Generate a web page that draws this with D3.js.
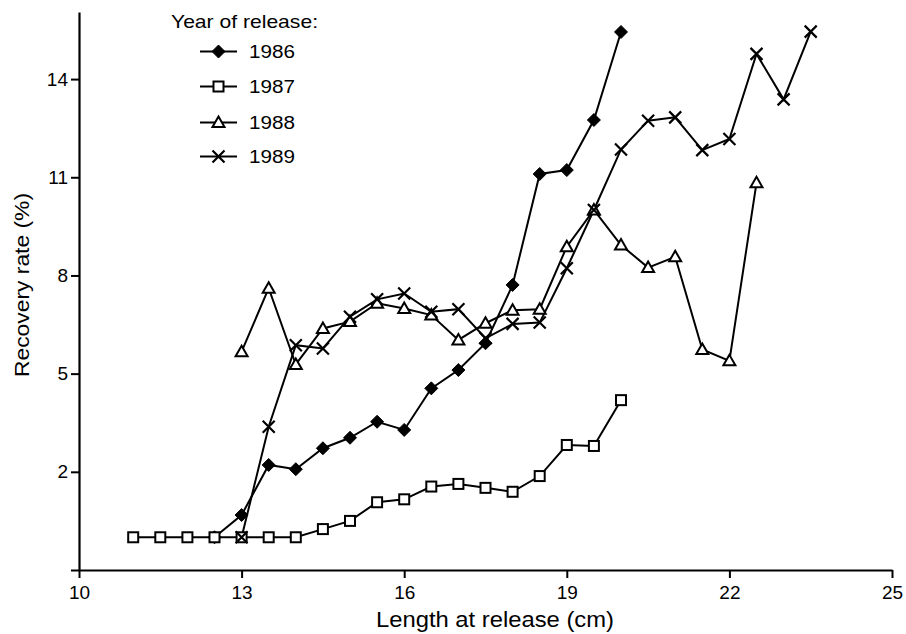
<!DOCTYPE html>
<html>
<head>
<meta charset="utf-8">
<script src="https://cdn.jsdelivr.net/npm/d3@7"></script>
<style>
  html, body { margin: 0; padding: 0; background: #fff; }
  svg { display: block; }
  text { font-family: "Liberation Sans", Arial, Helvetica, sans-serif; fill: #000; }
</style>
</head>
<body>
<svg id="chart" width="906" height="634"></svg>
<script>
// ---- data ----
const years = ["1986", "1987", "1988", "1989"];
const x1986 = [12.5, 13, 13.5, 14, 14.5, 15, 15.5, 16, 16.5, 17, 17.5, 18, 18.5, 19, 19.5, 20];
const y1986 = [0, 0.68, 2.21, 2.08, 2.72, 3.04, 3.53, 3.28, 4.55, 5.11, 5.93, 7.71, 11.1, 11.22, 12.75, 15.44];
const x1987 = [11, 11.5, 12, 12.5, 13, 13.5, 14, 14.5, 15, 15.5, 16, 16.5, 17, 17.5, 18, 18.5, 19, 19.5, 20];
const y1987 = [0, 0, 0, 0, 0, 0, 0, 0.25, 0.5, 1.07, 1.16, 1.55, 1.63, 1.51, 1.39, 1.87, 2.82, 2.79, 4.19];
const x1988 = [13, 13.5, 14, 14.5, 15, 15.5, 16, 16.5, 17, 17.5, 18, 18.5, 19, 19.5, 20, 20.5, 21, 21.5, 22, 22.5];
const y1988 = [5.67, 7.61, 5.28, 6.38, 6.59, 7.15, 6.99, 6.79, 6.03, 6.54, 6.94, 6.97, 8.88, 10.0, 8.93, 8.24, 8.57, 5.74, 5.39, 10.83];
const x1989 = [13, 13.5, 14, 14.5, 15, 15.5, 16, 16.5, 17, 17.5, 18, 18.5, 19, 19.5, 20, 20.5, 21, 21.5, 22, 22.5, 23, 23.5];
const y1989 = [0, 3.38, 5.87, 5.77, 6.74, 7.27, 7.45, 6.89, 6.97, 6.08, 6.52, 6.56, 8.22, 10.0, 11.85, 12.73, 12.83, 11.83, 12.17, 14.77, 13.38, 15.45];
const xTicks = [10, 13, 16, 19, 22, 25];
const yTicks = [-1, 2, 5, 8, 11, 14];
const yTickLabels = ["", "2", "5", "8", "11", "14"];
const legendTitle = "Year of release:";
const xLabel = "Length at release (cm)";
const yLabel = "Recovery rate (%)";

const series = [
  { name: years[0], xs: x1986, ys: y1986, marker: "diamond" },
  { name: years[1], xs: x1987, ys: y1987, marker: "square" },
  { name: years[2], xs: x1988, ys: y1988, marker: "triangle" },
  { name: years[3], xs: x1989, ys: y1989, marker: "cross" }
];

// ---- layout ----
const svg = d3.select("#chart");
const x = d3.scaleLinear().domain([10, 25]).range([79, 892]);
const y = d3.scaleLinear().domain([-1, 16.05]).range([570, 12]);

const stroke = "#000";

// axes
const xAxis = svg.append("g").attr("transform", `translate(0,${y(-1)})`)
  .call(d3.axisBottom(x).tickValues(xTicks).tickSize(8).tickSizeOuter(0).tickPadding(8).tickFormat(d3.format("d")));
const yAxis = svg.append("g").attr("transform", `translate(${x(10)},0)`)
  .call(d3.axisLeft(y).tickValues(yTicks).tickSize(8).tickSizeOuter(0).tickPadding(3)
    .tickFormat((d, i) => yTickLabels[i]));
[xAxis, yAxis].forEach(g => {
  g.select(".domain").attr("stroke", stroke).attr("stroke-width", 2.2);
  g.selectAll(".tick line").attr("stroke", stroke).attr("stroke-width", 2);
  g.selectAll(".tick text").attr("font-size", 19).attr("font-family", "Liberation Sans, Arial, sans-serif").attr("fill", "#000");
});

// axis labels, fitted to the reference widths
svg.append("text").attr("x", 495).attr("y", 627).attr("text-anchor", "middle")
  .attr("font-size", 22).attr("textLength", 238).attr("lengthAdjust", "spacingAndGlyphs").text(xLabel);
svg.append("text").attr("transform", `translate(28.5,285) rotate(-90)`).attr("text-anchor", "middle")
  .attr("font-size", 21).attr("textLength", 184).attr("lengthAdjust", "spacingAndGlyphs").text(yLabel);

// markers
function drawMarker(g, type, cx, cy) {
  if (type === "diamond") {
    const s = 6.5;
    g.append("path").attr("d", `M${cx},${cy - s}L${cx + s},${cy}L${cx},${cy + s}L${cx - s},${cy}Z`)
      .attr("fill", "#000").attr("stroke", "#000").attr("stroke-width", 1);
  } else if (type === "square") {
    const s = 5;
    g.append("rect").attr("x", cx - s).attr("y", cy - s).attr("width", 2 * s).attr("height", 2 * s)
      .attr("fill", "#fff").attr("stroke", "#000").attr("stroke-width", 2);
  } else if (type === "triangle") {
    const s = 6;
    g.append("path").attr("d", `M${cx},${cy - s}L${cx + s},${cy + s * 0.75}L${cx - s},${cy + s * 0.75}Z`)
      .attr("fill", "#fff").attr("stroke", "#000").attr("stroke-width", 2);
  } else if (type === "cross") {
    const s = 6;
    g.append("path").attr("d", `M${cx - s},${cy - s}L${cx + s},${cy + s}M${cx - s},${cy + s}L${cx + s},${cy - s}`)
      .attr("fill", "none").attr("stroke", "#000").attr("stroke-width", 2.2);
  }
}

const line = d3.line().x(d => x(d[0])).y(d => y(d[1]));

const order = [0, 2, 3, 1];
order.forEach(i => {
  const s = series[i];
  const pts = s.xs.map((v, j) => [v, s.ys[j]]);
  svg.append("path").datum(pts).attr("d", line)
    .attr("fill", "none").attr("stroke", stroke).attr("stroke-width", 2);
});
[0, 2, 1, 3].forEach(i => {
  const s = series[i];
  const g = svg.append("g");
  s.xs.forEach((v, j) => drawMarker(g, s.marker, x(v), y(s.ys[j])));
});

// legend
const lg = svg.append("g");
lg.append("text").attr("x", 171).attr("y", 28).attr("font-size", 19)
  .attr("textLength", 147).attr("lengthAdjust", "spacingAndGlyphs").text(legendTitle);
const rowY = [51.5, 86.5, 122.5, 156.5];
series.forEach((s, i) => {
  const cy = rowY[i];
  lg.append("line").attr("x1", 200).attr("x2", 237).attr("y1", cy).attr("y2", cy)
    .attr("stroke", stroke).attr("stroke-width", 2);
  drawMarker(lg, s.marker, 218.5, cy);
  lg.append("text").attr("x", 249).attr("y", cy + 6.5).attr("font-size", 18)
    .attr("textLength", 46).attr("lengthAdjust", "spacingAndGlyphs").text(s.name);
});
</script>
</body>
</html>
